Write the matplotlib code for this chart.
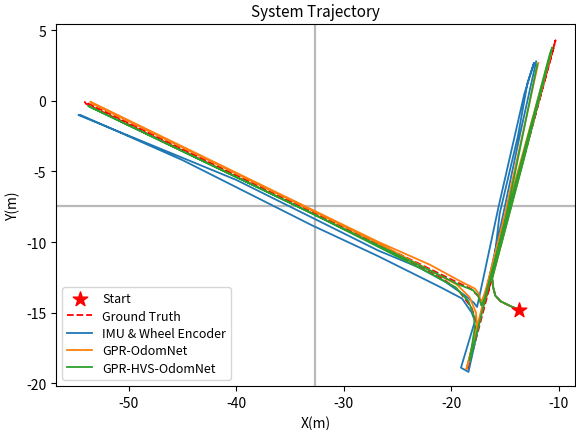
import matplotlib
matplotlib.use("Agg")
from matplotlib import pyplot as plt

plt.rcParams['font.family'] = ['Noto Sans CJK SC', 'DejaVu Sans']
plt.rcParams['axes.unicode_minus'] = False

# start point
start_x = [-13.7]
start_y = [-14.8]

# ground truth
gt_x = [-13.7, -14.6, -15.4, -15.9, -16.1, -16.2, -13.4, -10.3,
        -10.4, -13.5, -16.6, -17.0,
        -17.4, -18.2, -19.6, -22.0, -54.1,
        -54.0, -33.0, -24.0, -21.0, -19.35, -18.15, -17.8, -17.7, -18.5,
        -18.4, -14.3, -10.4]
gt_y = [-14.8, -14.5, -14.2, -13.8, -13.2, -12.5, -4.4, 4.3,
        4.0, -4.6, -13.6, -14.4,
        -13.9, -13.3, -12.8, -11.9, -0.07,
        -0.2, -7.95, -11.3, -12.5, -13.4, -14.6, -15.3, -16.2, -19.1,
        -18.9, -7.0, 4.0]

# IMU & wheel encoder
imu_x = [-13.7, -14.6, -15.4, -15.9, -16.1, -16.2, -15.5, -13.8, -12.9, -12.3,
         -12.5, -13.2, -15.6, -17.0, -17.6,
         -17.9, -18.7, -20.6, -23.0, -26.8, -40.0, -54.7,
         -54.5, -45.0, -33.0, -26.8, -21.0, -19.0, -18.1, -17.8, -19.1,
         -18.4, -15.3, -13.5, -12.1]
imu_y = [-14.8, -14.5, -14.2, -13.8, -13.2, -12.6, -8.0, -2.5, 1.3, 2.7,
         2.2, 0.5, -7.5, -12.5, -14.6,
         -14.3, -13.8, -12.8, -11.8, -10.6, -5.6, -1.0,
         -1.0, -4.2, -8.8, -11.0, -13.2, -14.0, -15.0, -15.6, -18.9,
         -19.2, -8.5, -2.0, 2.8]

# GPR-OdomNet
gpr_x = [-13.7, -14.6, -15.4, -15.9, -16.1, -16.2, -13.4, -10.7,
         -10.9, -14.9, -16.8, -17.2,
         -17.5, -17.8, -19.35, -22.0, -26.76, -53.6,
         -53.4, -33.0, -26.76, -22.0, -19.5, -18.3, -17.7, -17.6, -18.6,
         -18.5, -15.0, -11.9]
gpr_y = [-14.8, -14.5, -14.2, -13.8, -13.2, -12.6, -4.5, 3.4,
         3.0, -8.0, -13.4, -14.3,
         -13.6, -13.3, -12.7, -11.6, -10.0, -0.05,
         -0.2, -7.75, -10.1, -12.0, -13.0, -13.9, -15.0, -16.0, -19.0,
         -18.8, -8.0, 2.7]

# GPR-HVS-OdomNet
hvs_x = [-13.7, -14.6, -15.4, -15.9, -16.1, -16.2, -13.3, -10.6,
         -10.8, -14.7, -16.9, -17.2,
         -17.5, -18.0, -19.35, -22.0, -26.76, -53.8,
         -53.7, -33.0, -26.76, -22.0, -19.6, -18.4, -17.9, -17.8, -18.3,
         -18.2, -14.9, -12.0]
hvs_y = [-14.8, -14.5, -14.2, -13.8, -13.2, -12.6, -4.3, 3.8,
         3.4, -7.8, -14.0, -14.5,
         -13.8, -13.4, -13.0, -12.0, -10.25, -0.35,
         -0.4, -7.95, -10.35, -12.2, -13.2, -14.2, -15.2, -16.0, -18.4,
         -18.2, -8.2, 2.6]

fig = plt.figure(figsize=(5.76, 4.31), dpi=100)
ax = fig.add_subplot(111)
fig.subplots_adjust(left=0.097, right=0.998, bottom=0.102, top=0.942)

ax.axhline(-7.45, color='gray', alpha=0.55, lw=1.6, zorder=0)
ax.axvline(-32.65, color='gray', alpha=0.55, lw=1.6, zorder=0)

ax.scatter(start_x, start_y, marker='*', color='red', s=120, zorder=5, label='Start')
ax.plot(gt_x, gt_y, 'r--', lw=1.3, label='Ground Truth')
ax.plot(imu_x, imu_y, color='#1f77b4', lw=1.3, label='IMU & Wheel Encoder')
ax.plot(gpr_x, gpr_y, color='#ff7f0e', lw=1.3, label='GPR-OdomNet')
ax.plot(hvs_x, hvs_y, color='#2ca02c', lw=1.3, label='GPR-HVS-OdomNet')

ax.set_xlim(-56.8, -8.5)
ax.set_ylim(-20.2, 5.45)
ax.set_title('System Trajectory', fontsize=11)
ax.set_xlabel('X(m)')
ax.set_ylabel('Y(m)')
ax.legend(loc='lower left', fontsize=9, labelspacing=0.35)

fig.savefig('out.png', dpi=100)
